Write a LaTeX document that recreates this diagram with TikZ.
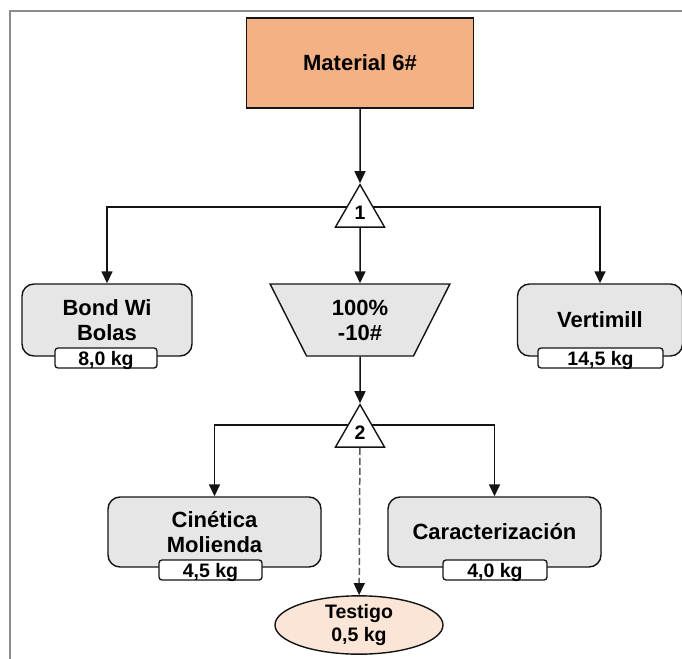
\documentclass[tikz,border=0pt]{standalone}
\usepackage{fontspec}
\setmainfont{Liberation Sans}
\usetikzlibrary{shapes.geometric,arrows.meta,backgrounds}

\definecolor{matorange}{HTML}{F4B183}
\definecolor{boxgray}{HTML}{E6E6E6}
\definecolor{testfill}{HTML}{FBE5D6}
\definecolor{framegray}{HTML}{8C8C8C}
\definecolor{inkdark}{HTML}{141414}
\definecolor{dashgray}{HTML}{5A5A5A}

\tikzset{
  bigtext/.style={font=\bfseries\fontsize{22}{25}\selectfont, align=center},
  smalltext/.style={font=\bfseries\fontsize{19.5}{23}\selectfont, align=center},
  matbox/.style={draw=inkdark, line width=1.5pt, fill=matorange, bigtext,
    minimum width=227pt, minimum height=90pt, inner sep=0pt},
  procbox/.style={draw=inkdark, line width=1.4pt, fill=boxgray, rounded corners=12pt,
    bigtext, minimum height=72pt, inner sep=0pt},
  sieve/.style={draw=inkdark, line width=1.4pt, fill=boxgray, bigtext,
    trapezium, trapezium stretches=true, shape border rotate=180,
    trapezium left angle=64.7, trapezium right angle=64.7,
    minimum width=181pt, minimum height=72pt, inner sep=0pt},
  splitter/.style={draw=inkdark, line width=1.4pt, fill=white, smalltext,
    regular polygon, regular polygon sides=3, minimum size=56.6pt, inner sep=0pt},
  masstag/.style={draw=inkdark, line width=1.3pt, fill=white, rounded corners=3pt,
    smalltext, minimum height=20pt, text depth=0pt, inner sep=0pt},
  sampleoval/.style={draw=inkdark, line width=1.4pt, fill=testfill, ellipse,
    smalltext, minimum width=168pt, minimum height=56pt, inner sep=0pt},
  conn/.style={draw=inkdark, line width=1.5pt, -{Triangle[length=12pt,width=11pt]}},
  dashconn/.style={draw=dashgray, line width=1.5pt, dash pattern=on 7pt off 3pt,
    -{Triangle[length=12pt,width=11pt,fill=inkdark,color=inkdark]}},
}

\begin{document}
\begin{tikzpicture}[x=1pt, y=-1pt]
  \useasboundingbox (0,0) rectangle (682,658);

  % nodes
  \node[matbox] (mat) at (360,63) {Material 6\#};
  \node[splitter] (tri1) at (360,212.9) {1};
  \node[procbox, minimum width=170pt] (bond) at (107,320) {Bond Wi\\Bolas};
  \node[sieve] (trap) at (360,320) {100\%\\-10\#};
  \node[procbox, minimum width=165pt] (verti) at (600,320) {Vertimill};
  \node[masstag, minimum width=102pt] (mbond) at (106,358) {8,0 kg};
  \node[masstag, minimum width=125pt] (mverti) at (600.5,358) {14,5 kg};

  \node[splitter] (tri2) at (360,432.9) {2};
  \node[procbox, minimum width=213pt, minimum height=70pt] (cin) at (214.5,532) {Cinética\\Molienda};
  \node[procbox, minimum width=213pt, minimum height=70pt] (carac) at (494.5,532) {Caracterización};
  \node[masstag, minimum width=103pt] (mcin) at (210.5,570) {4,5 kg};
  \node[masstag, minimum width=104pt] (mcar) at (495,570) {4,0 kg};
  \node[sampleoval] (test) at (359,625) {Testigo\\0,5 kg};

  % branch points behind the splitters
  \coordinate (j1) at (360,207);
  \coordinate (j2) at (360,425);

  \begin{pgfonlayer}{background}
    \fill[white] (0,0) rectangle (682,658);
    % outer frame (top and left edges)
    \draw[framegray, line width=2pt] (10,660) -- (10,11) -- (684,11);

    \draw[conn] (mat) -- (tri1);
    \draw[conn] (j1) -| (bond);
    \draw[conn] (j1) -| (verti);
    \draw[conn] (tri1) -- (trap);
    \draw[conn] (trap) -- (tri2);
    \draw[conn] (j2) -| (cin);
    \draw[conn] (j2) -| (carac);
    \draw[dashconn] (tri2) -- (test);
  \end{pgfonlayer}
\end{tikzpicture}
\end{document}
